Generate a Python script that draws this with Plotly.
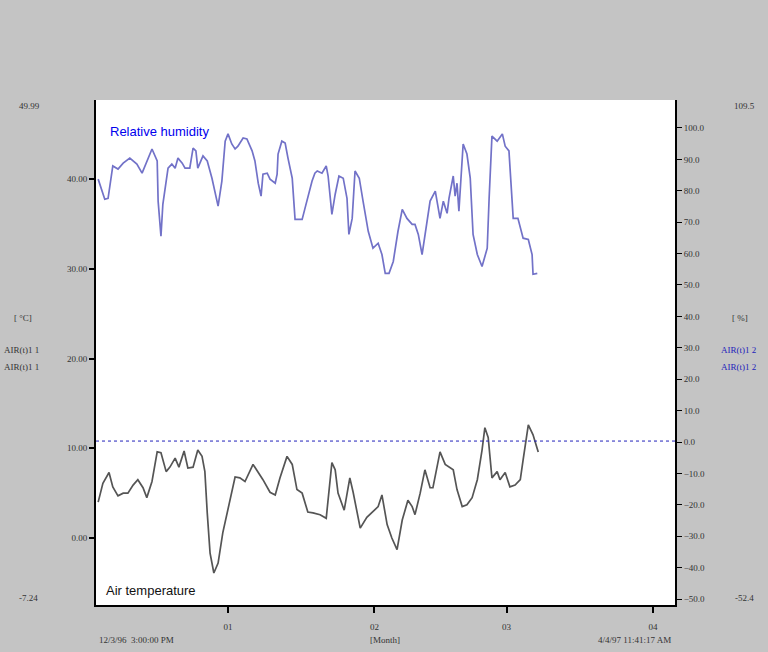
import pandas as pd
import plotly.graph_objects as go

# ---- data (days relative to 1997-01-01) ----
rh_days = [-27.5, -26.1, -25.4, -24.4, -23.3, -22.2, -20.8, -19.3, -18.2, -17.2, -16.1, -15.0,
           -14.8, -14.2, -13.8, -12.7, -11.9, -11.2, -10.6, -9.7, -9.1, -8.1, -7.4, -6.8, -6.4,
           -5.3, -4.4, -3.4, -2.1, -1.3, -0.6, 0.0, 0.8, 1.5, 2.1, 3.2, 4.0, 5.1, 5.7, 6.4, 7.0,
           7.4, 8.3, 8.9, 10.0, 10.4, 10.6, 11.4, 12.1, 12.7, 13.6, 14.2, 15.7, 16.3, 16.7, 17.4,
           17.8, 18.4, 18.9, 19.9, 20.8, 21.2, 22.0, 22.7, 23.5, 24.4, 25.2, 25.6, 26.3, 26.9,
           27.8, 28.6, 29.7, 30.7, 31.8, 32.6, 33.3, 34.1, 35.0, 36.0, 36.9, 37.9, 39.0, 39.6,
           40.3, 41.1, 41.9, 42.8, 43.9, 44.9, 45.6, 46.4, 46.8, 47.7, 48.1, 48.5, 48.9, 49.8,
           50.6, 51.3, 51.9, 52.8, 53.8, 54.9, 55.3, 55.9, 57.0, 58.1, 58.7, 59.5, 60.4, 61.4,
           62.5, 63.6, 64.4, 64.6, 65.5]
rh_values = [83.7, 77.3, 77.6, 87.9, 86.9, 88.8, 90.4, 88.5, 85.6, 89.5, 93.3, 89.5,
             76.7, 65.5, 75.7, 87.2, 88.5, 87.2, 90.4, 88.8, 87.2, 87.2, 93.6, 92.7, 87.2,
             91.1, 89.5, 84.0, 75.1, 83.1, 95.8, 98.1, 94.9, 93.3, 94.2, 96.8, 96.5, 92.7, 89.5,
             82.4, 78.3, 85.3, 85.6, 83.7, 82.4, 85.3, 91.7, 95.8, 95.2, 90.4, 84.0, 70.9, 70.9,
             74.4, 76.7, 80.8, 83.1, 85.6, 86.3, 85.6, 87.9, 84.7, 72.5, 78.9, 84.7, 84.0, 77.6,
             66.1, 71.2, 86.3, 84.0, 76.7, 67.1, 61.7, 63.3, 59.7, 53.7, 53.7, 57.5, 67.1, 74.1,
             71.2, 69.3, 69.3, 66.1, 59.7, 67.1, 76.7, 79.9, 71.2, 76.7, 72.8, 77.6, 84.7, 78.3,
             82.4, 73.5, 94.9, 91.7, 84.0, 66.1, 59.7, 55.9, 61.7, 77.6, 97.4, 95.8, 98.1, 94.2,
             92.7, 71.2, 71.2, 64.9, 64.5, 59.7, 53.4, 53.7]

t_days = [-27.5, -26.5, -25.2, -24.4, -23.3, -22.2, -21.2, -20.1, -19.1, -18.0, -17.2, -16.1,
          -15.0, -14.2, -13.1, -12.3, -11.2, -10.4, -9.3, -8.5, -7.4, -6.4, -5.5, -4.9, -4.4,
          -3.8, -3.0, -2.1, -1.1, 0.4, 1.5, 2.5, 3.6, 5.3, 6.4, 7.4, 8.9, 10.0, 11.0, 12.5,
          13.6, 14.6, 15.7, 16.9, 18.0, 19.5, 20.8, 22.0, 22.7, 23.3, 24.6, 25.8, 26.5, 28.0,
          29.4, 30.5, 31.8, 32.6, 33.7, 34.7, 35.8, 36.9, 38.1, 39.0, 39.6, 40.7, 41.7, 42.8,
          43.4, 44.9, 46.0, 47.7, 48.5, 49.6, 50.6, 51.7, 52.8, 53.8, 54.4, 55.1, 55.9, 57.0,
          57.6, 58.7, 59.7, 60.8, 61.9, 62.5, 63.6, 64.6, 65.7]
t_values = [4.0, 6.1, 7.3, 5.7, 4.7, 5.0, 5.0, 5.9, 6.5, 5.6, 4.5, 6.3,
            9.6, 9.5, 7.4, 7.9, 8.9, 7.9, 9.7, 7.8, 7.9, 9.8, 9.1, 7.4, 2.8,
            -1.7, -3.9, -2.8, 0.6, 4.2, 6.8, 6.7, 6.3, 8.2, 7.3, 6.5, 5.1, 4.8, 6.7, 9.1,
            8.2, 5.4, 5.0, 2.9, 2.8, 2.6, 2.2, 8.4, 7.6, 5.0, 3.1, 6.7, 5.1, 1.1,
            2.3, 2.9, 3.5, 4.8, 1.5, 0.0, -1.3, 2.0, 4.2, 3.5, 2.6, 5.0, 7.6, 5.6,
            5.6, 9.6, 8.2, 7.6, 5.4, 3.5, 3.7, 4.5, 6.5, 9.8, 12.3, 11.2, 6.7, 7.4,
            6.5, 7.3, 5.7, 5.9, 6.5, 8.7, 12.6, 11.5, 9.6]

month_ticks = ["1997-01-01", "1997-02-01", "1997-03-01", "1997-04-01"]
month_labels = ["01", "02", "03", "04"]
left_ticks = [0, 10, 20, 30, 40]
right_ticks = [-50, -40, -30, -20, -10, 0, 10, 20, 30, 40, 50, 60, 70, 80, 90, 100]

base = pd.Timestamp("1997-01-01")
rh_x = base + pd.to_timedelta(rh_days, unit="D")
t_x = base + pd.to_timedelta(t_days, unit="D")

GREY = "#c4c4c4"
TICKFONT = dict(family="Liberation Serif", size=9, color="#333333")

fig = go.Figure()
fig.add_trace(go.Scatter(x=t_x, y=t_values, mode="lines", yaxis="y",
                         line=dict(color="#555555", width=1.7), name="Air temperature"))
fig.add_trace(go.Scatter(x=rh_x, y=rh_values, mode="lines", yaxis="y2",
                         line=dict(color="#7272c8", width=1.7), name="Relative humidity"))

fig.add_shape(type="line", xref="paper", yref="y2", x0=0, x1=1, y0=0.3, y1=0.3,
              line=dict(color="#2222bb", width=1, dash="dot"))

fig.update_layout(
    width=768, height=652,
    margin=dict(l=96, r=93, t=100, b=47),
    paper_bgcolor=GREY, plot_bgcolor="white",
    showlegend=False,
    xaxis=dict(type="date", range=["1996-12-04 01:00", "1997-04-05 16:00"],
               tickvals=month_ticks, ticktext=month_labels, ticks="outside", ticklen=6,
               tickwidth=1.5, tickcolor="black", showgrid=False, zeroline=False,
               showline=True, linecolor="black", linewidth=2, tickfont=TICKFONT,
               ticklabelstandoff=6),
    yaxis=dict(range=[-7.47, 48.83], tickvals=left_ticks, tickformat=".2f",
               ticks="outside", ticklen=5, tickcolor="black", tickwidth=1.5,
               showgrid=False, zeroline=False, showline=True, linecolor="black",
               linewidth=2, tickfont=TICKFONT),
    yaxis2=dict(range=[-51.9, 108.9], tickvals=right_ticks, tickformat=".1f",
                overlaying="y", side="right", ticks="outside", ticklen=5,
                tickcolor="black", tickwidth=1, showgrid=False, zeroline=False,
                showline=True, linecolor="black", linewidth=2, tickfont=TICKFONT),
)

def note(text, x, y, color="#333333", size=9, anchor="left", family="Liberation Serif"):
    fig.add_annotation(text=text, x=x, y=y, xref="paper", yref="paper", showarrow=False,
                       xanchor=anchor, yanchor="middle",
                       font=dict(family=family, size=size, color=color))

def px(xp, yp):
    # convert figure pixel to paper coords
    return (xp - 96) / (768 - 96 - 93), (652 - 47 - yp) / (652 - 100 - 47)

# in-plot series labels
x0, y0 = px(108, 132)
note("Relative humidity", x0, y0, color="#0000ee", size=13, family="Liberation Sans")
x0, y0 = px(104, 590)
note("Air temperature", x0, y0, color="#111111", size=13, family="Liberation Sans")

# axis extremes and unit labels
for txt, xp, yp, col, anc in [
    ("49.99", 42, 106, "#333333", "right"),
    ("-7.24", 40, 598, "#333333", "right"),
    ("109.5", 757, 106, "#333333", "right"),
    ("-52.4", 756, 598, "#333333", "right"),
    ("[ °C]", 12, 318, "#333333", "left"),
    ("AIR(t)1 1", 2, 350, "#333333", "left"),
    ("AIR(t)1 1", 2, 367, "#333333", "left"),
    ("[ %]", 730, 318, "#333333", "left"),
    ("AIR(t)1 2", 719, 350, "#2222bb", "left"),
    ("AIR(t)1 2", 719, 367, "#2222bb", "left"),
    ("12/3/96  3:00:00 PM", 97, 640, "#333333", "left"),
    ("[Month]", 385, 640, "#333333", "center"),
    ("4/4/97 11:41:17 AM", 673, 640, "#333333", "right"),
]:
    xx, yy = px(xp, yp)
    note(txt, xx, yy, color=col, anchor=anc)

# grey band over the top of the window
fig.add_shape(type="rect", xref="paper", yref="paper", x0=-1, x1=2,
              y0=px(0, 100)[1], y1=px(0, 0)[1], fillcolor=GREY, line=dict(width=0),
              layer="above")

fig.write_html("out.html", config={"displayModeBar": False},
               post_script="document.body.style.margin='0';")
